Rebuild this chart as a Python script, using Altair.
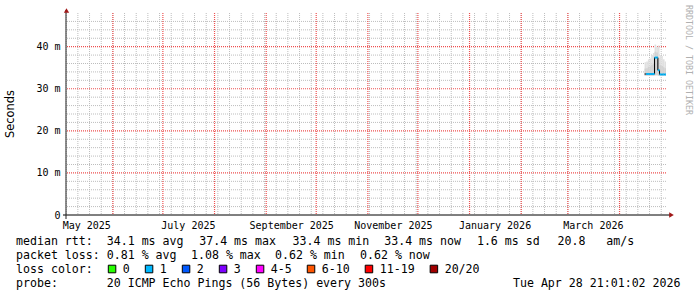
import altair as alt
import pandas as pd

# ---------------- data ----------------
bucket_start = [
    "2026-04-16T00:00:00", "2026-04-17T00:00:00", "2026-04-18T00:00:00",
    "2026-04-19T00:00:00", "2026-04-20T00:00:00", "2026-04-21T00:00:00",
    "2026-04-22T00:00:00", "2026-04-23T00:00:00", "2026-04-24T00:00:00",
    "2026-04-25T00:00:00", "2026-04-26T00:00:00", "2026-04-27T00:00:00",
    "2026-04-28T00:00:00",
]
series_end = "2026-04-28T21:01:02"
median_ms = [33.5, 33.5, 33.5, 33.5, 33.5, 33.5, 37.4, 37.4, 34.4, 33.4, 33.4, 33.4, 33.4]
loss_class = ["", "1", "1", "1", "1", "1", "1", "1", "1", "1", "1", "1", "1"]
smoke_low_ms = [33.1, 33.1, 33.1, 33.1, 33.1, 33.1, 33.2, 33.2, 33.1, 33.1, 33.1, 33.1, 33.1]
smoke_mid_ms = [34.8, 34.9, 35.2, 35.3, 35.7, 36.0, 38.8, 38.6, 37.3, 35.6, 35.4, 35.1, 34.9]
smoke_high_ms = [36.3, 36.5, 37.0, 37.2, 38.0, 38.5, 40.5, 40.0, 40.3, 38.0, 37.8, 37.0, 36.5]

loss_labels = ["0", "1", "2", "3", "4-5", "6-10", "11-19", "20/20"]
loss_colors = ["#26ff00", "#00b8ff", "#0059ff", "#7e00ff", "#ff00ff", "#ff5500", "#ff0000", "#a10000"]

y_ticks = [0, 10, 20, 30, 40]
y_minor = [2, 4, 6, 8, 12, 14, 16, 18, 22, 24, 26, 28, 32, 34, 36, 38, 42, 44, 46]
x_label_months = [(2025, 5), (2025, 7), (2025, 9), (2025, 11), (2026, 1), (2026, 3)]
week_lines = pd.date_range("2025-05-04", "2026-04-26", freq="7D").strftime("%Y-%m-%dT%H:%M:%S").tolist()
month_lines = pd.date_range("2025-06-01", "2026-04-01", freq="MS").strftime("%Y-%m-%dT%H:%M:%S").tolist()

line1_items = ["median rtt:  34.1 ms avg", "37.4 ms max", "33.4 ms min", "33.4 ms now", "1.6 ms sd", "20.8   am/s"]
line2_items = ["packet loss: 0.81 % avg", "1.08 % max", "0.62 % min", "0.62 % now"]
line3_head = "loss color:"
line4_left = "probe:       20 ICMP Echo Pings (56 Bytes) every 300s"
line4_right = "Tue Apr 28 21:01:02 2026"
y_title = "Seconds"
watermark = "RRDTOOL / TOBI OETIKER"

# ---------------- layout ----------------
LEFT, TOP, W, H = 66, 13, 600, 202
MONO = "DejaVu Sans Mono"
FS = 11.6
CW = FS * 0.602
line1_x = [16, 199.2, 292.5, 384.2, 476.9, 557.5]
line2_x = [16, 191.0, 275.0, 360.0]
baselines = [245.3, 259.3, 273.3, 287.0]

x_dom = [alt.DateTime(year=2025, month=5, date=3, hours=21, minutes=1, seconds=2),
         alt.DateTime(year=2026, month=4, date=28, hours=21, minutes=1, seconds=2)]
xscale = alt.Scale(domain=x_dom)
yscale = alt.Scale(domain=[0, 48], nice=False, zero=True)

nb = lambda s: s.replace(" ", "\u00a0")

bucket_end = bucket_start[1:] + [series_end]
df = pd.DataFrame({
    "t": bucket_start, "t2": bucket_end, "med": median_ms, "loss": loss_class,
    "lo": smoke_low_ms, "mid": smoke_mid_ms, "hi": smoke_high_ms,
})
df_line = pd.DataFrame({"t": bucket_start + [series_end], "med": median_ms + [median_ms[-1]]})

x_axis = alt.Axis(
    values=[alt.DateTime(year=y, month=m, date=16) for y, m in x_label_months],
    format="%B %Y", title=None, ticks=False, domain=False, grid=False,
    labelFont=MONO, labelFontSize=10, labelColor="#000000", labelPadding=5,
    labelOverlap=False, labelFlush=False, labelBound=False,
)
y_axis = alt.Axis(
    values=y_ticks, title=None, ticks=False, domain=False, grid=False,
    labelExpr="datum.value == 0 ? '0\u00a0\u00a0' : datum.value + '\u00a0m'",
    labelFont=MONO, labelFontSize=10, labelColor="#000000", labelPadding=6,
)


def X(f):
    return alt.X(f, scale=xscale, axis=x_axis)


def Y(f):
    return alt.Y(f, scale=yscale, axis=y_axis)


layers = []

# grid
layers.append(alt.Chart(pd.DataFrame({"t": week_lines})).mark_rule(
    stroke="#bdbdbd", strokeDash=[1, 1], strokeWidth=1).encode(x=X("t:T")))
layers.append(alt.Chart(pd.DataFrame({"v": y_minor})).mark_rule(
    stroke="#bdbdbd", strokeDash=[1, 1], strokeWidth=1).encode(y=Y("v:Q")))
layers.append(alt.Chart(pd.DataFrame({"t": month_lines})).mark_rule(
    stroke="#ee5050", strokeDash=[1, 1], strokeWidth=1.2).encode(x=X("t:T")))
layers.append(alt.Chart(pd.DataFrame({"v": y_ticks[1:]})).mark_rule(
    stroke="#ee5050", strokeDash=[1, 1], strokeWidth=1.2).encode(y=Y("v:Q")))

# smoke
layers.append(alt.Chart(df).mark_rect(color="#e0e0e0").encode(
    x=X("t:T"), x2="t2:T", y=Y("lo:Q"), y2="hi:Q"))
layers.append(alt.Chart(df).mark_rect(color="#d2d2d2").encode(
    x=X("t:T"), x2="t2:T", y=Y("lo:Q"), y2="mid:Q"))

# median line
layers.append(alt.Chart(df_line).mark_line(color="#000000", strokeWidth=1, interpolate="step-after").encode(
    x=X("t:T"), y=Y("med:Q")))
layers.append(alt.Chart(df[df["loss"] != ""]).mark_rule(strokeWidth=2).encode(
    x=X("t:T"), x2="t2:T", y=Y("med:Q"),
    color=alt.Color("loss:N", scale=alt.Scale(domain=loss_labels, range=loss_colors), legend=None)))

dummy = pd.DataFrame({"k": [0]})

# axis lines and arrows
layers.append(alt.Chart(dummy).mark_rule(color="#000000", strokeWidth=1).encode(
    x=alt.value(-3), x2=alt.value(604), y=alt.value(H)))
layers.append(alt.Chart(dummy).mark_rule(color="#202020", strokeWidth=1).encode(
    x=alt.value(0), y=alt.value(-3), y2=alt.value(H + 4)))
layers.append(alt.Chart(dummy).mark_point(shape="triangle-right", filled=True, size=28,
                                          color="#a01818", opacity=1).encode(
    x=alt.value(605.5), y=alt.value(H)))
layers.append(alt.Chart(dummy).mark_point(shape="triangle-up", filled=True, size=28,
                                          color="#a01818", opacity=1).encode(
    x=alt.value(0.5), y=alt.value(-2.5)))


def text_layer(s, ax, ay, size=FS, font=MONO, align="left", baseline="alphabetic",
               angle=0, color="#000000"):
    return alt.Chart(pd.DataFrame({"s": [nb(s)]})).mark_text(
        font=font, fontSize=size, align=align, baseline=baseline, angle=angle, color=color
    ).encode(x=alt.value(ax - LEFT), y=alt.value(ay - TOP), text="s:N")


for s, xx in zip(line1_items, line1_x):
    layers.append(text_layer(s, xx, baselines[0]))
for s, xx in zip(line2_items, line2_x):
    layers.append(text_layer(s, xx, baselines[1]))
layers.append(text_layer(line3_head, 16, baselines[2]))
layers.append(text_layer(line4_left, 16, baselines[3]))
layers.append(text_layer(line4_right, 680.5, baselines[3], align="right"))

# loss colour legend boxes
bx = 108.3
for lab, col in zip(loss_labels, loss_colors):
    layers.append(alt.Chart(dummy).mark_rect(color=col, stroke="#000000", strokeWidth=1).encode(
        x=alt.value(bx - LEFT), x2=alt.value(bx + 7.5 - LEFT),
        y=alt.value(265.2 - TOP), y2=alt.value(272.8 - TOP)))
    layers.append(text_layer(lab, bx + 14.5, baselines[2]))
    bx += 37 + CW * (len(lab) - 1)

# titles
layers.append(text_layer(y_title, 11, TOP + H / 2, size=11.4, font="DejaVu Sans",
                         align="center", baseline="middle", angle=270))
layers.append(text_layer(watermark, 688.3, 60, size=8.3, align="center",
                         baseline="middle", angle=90, color="#b0b0b0"))

chart = alt.layer(*layers).properties(
    width=W, height=H,
    autosize=alt.AutoSizeParams(type="none"),
    padding={"left": LEFT, "top": TOP, "right": 697 - LEFT - W, "bottom": 297 - TOP - H},
    background="#ffffff",
).configure_view(stroke=None)

chart.save("out.html", embed_options={"renderer": "svg", "actions": False})
